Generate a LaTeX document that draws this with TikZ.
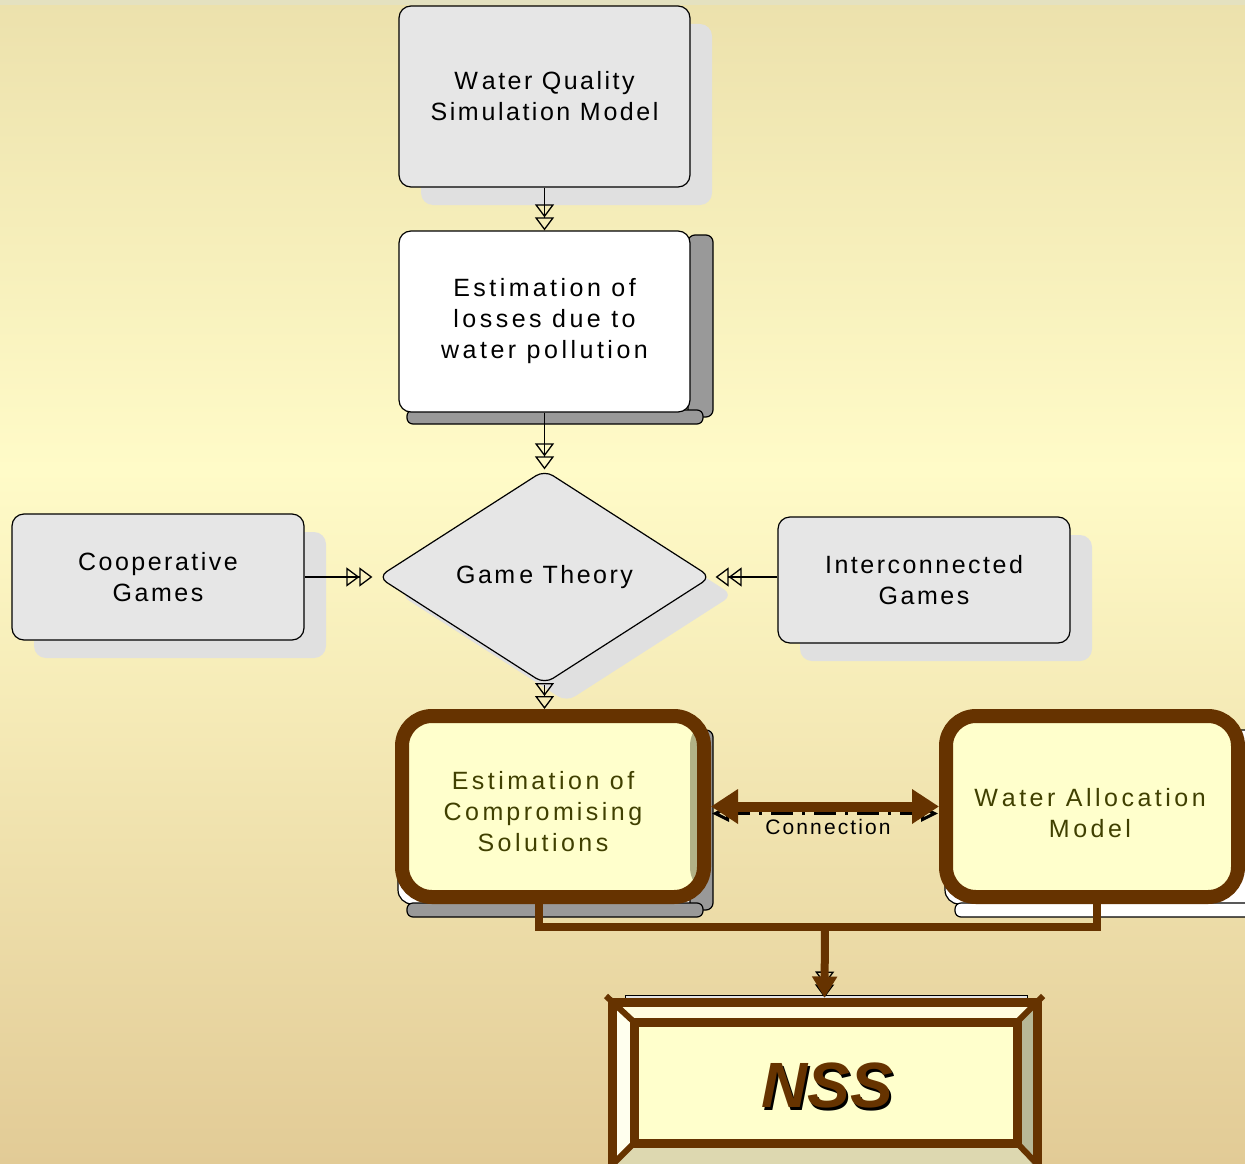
\documentclass[tikz,border=0pt]{standalone}
\usepackage{fontspec}
\setmainfont{Liberation Sans}
\newfontfamily\boxfont{Liberation Sans}[LetterSpace=10]
\newfontfamily\widefont{Liberation Sans}[LetterSpace=14]
\usetikzlibrary{shapes.geometric,arrows.meta,shadows}

\definecolor{bgtop}{RGB}{236,225,172}
\definecolor{bgmid}{RGB}{255,251,200}
\definecolor{bgbot}{RGB}{226,203,150}
\definecolor{topstrip}{RGB}{228,225,192}
\definecolor{boxgray}{RGB}{230,230,230}
\definecolor{shgray}{RGB}{224,224,224}
\definecolor{bargray}{RGB}{153,153,153}
\definecolor{brownc}{RGB}{102,51,0}
\definecolor{paleyel}{RGB}{255,255,204}
\definecolor{olivetxt}{RGB}{64,64,0}
\definecolor{olivestrip}{RGB}{178,178,134}
\definecolor{bevtop}{RGB}{255,252,222}
\definecolor{bevleft}{RGB}{255,255,238}
\definecolor{bevright}{RGB}{184,184,150}
\definecolor{bevbot}{RGB}{221,216,176}

\newcommand\kk{\kern4pt}
\newcommand\ks{\kern3pt}

\begin{document}
\begin{tikzpicture}[x=1pt,y=-1pt,
  txt/.style={font=\boxfont\fontsize{25}{31}\selectfont, align=center},
  wtxt/.style={font=\widefont\fontsize{25}{31}\selectfont, align=center},
  flatshadow/.style={drop shadow={shadow xshift=22pt, shadow yshift=-18pt, fill=shgray, opacity=1}},
  graybox/.style={txt, draw=black, line width=1.2pt, fill=boxgray, rounded corners=12pt, inner sep=0pt, flatshadow},
  whitebox/.style={wtxt, draw=black, line width=1.2pt, fill=white, rounded corners=12pt, inner sep=0pt},
  brownbox/.style={draw=brownc, line width=14pt, fill=paleyel, rounded corners=30pt, inner sep=0pt},
  yeltxt/.style={wtxt, text=olivetxt},
  bar/.style={draw=black, line width=1.2pt, rounded corners=7pt},
  dblarrow/.style={draw=black, line width=1.3pt, -{Triangle[open, length=13pt, width=19pt] Triangle[open, length=13pt, width=19pt]}},
  brownline/.style={draw=brownc, line width=8pt},
]
\useasboundingbox (0,0) rectangle (1245,1164);
% background
\shade[top color=bgtop, bottom color=bgmid] (0,0) rectangle (1245,470);
\shade[top color=bgmid, bottom color=bgbot] (0,470) rectangle (1245,1164);
\fill[topstrip] (0,0) rectangle (1245,5);

% box 1
\node[graybox, minimum width=291pt, minimum height=181pt] (wq) at (544.5,96.5) {W\kk ater Quality\\Sim\ks ulation M\ks odel};

% box 2 with 3D bars
\draw[bar, fill=bargray] (688,235) rectangle (713,417);
\draw[bar, fill=bargray, rounded corners=6pt] (407,410) rectangle (703,424);
\node[whitebox, minimum width=291pt, minimum height=181pt] (el) at (544.5,321.5) {Estim\ks ation of\\losses due to\\water pollution};

% diamond
\node[diamond, draw=black, line width=1.2pt, fill=boxgray, rounded corners=10pt, inner sep=0pt,
      minimum width=333pt, minimum height=214pt, flatshadow, txt] (gt) at (544.5,577) {Gam\kk e Theory};

% side boxes
\node[graybox, minimum width=292pt, minimum height=126pt] (coop) at (158,577) {Cooperative\\Games};
\node[graybox, minimum width=292pt, minimum height=126pt] (inter) at (924,580) {Interconnected\\Games};

% thin connectors
\draw[dblarrow] (wq.south) -- (el.north);
\draw[dblarrow] (el.south) -- (gt.north);
\draw[dblarrow, shorten >=5pt] (coop.east) -- (gt.west);
\draw[dblarrow, shorten >=4pt] (gt.east -| inter.west) -- (gt.east);

% box E backing
\draw[bar, fill=white, rounded corners=14pt] (398,730) rectangle (703,904);
\draw[bar, fill=bargray] (690,730) rectangle (713,910);
\draw[bar, fill=bargray, rounded corners=6pt] (407,903) rectangle (703,917);
% box W backing
\draw[bar, fill=white, rounded corners=14pt] (945,730) rectangle (1262,904);
\draw[bar, fill=white, rounded corners=6pt] (955,903) rectangle (1262,917);

\node[brownbox, minimum width=302pt, minimum height=181pt,
      path picture={\fill[olivestrip] ([xshift=-14pt]path picture bounding box.north east) rectangle (path picture bounding box.south east);}] (esta) at (553,806.5) {};
\node[yeltxt] (estatext) at (543,812) {Estim\ks ation of\\Com\ks prom\ks ising\\Solutions};
\node[brownbox, minimum width=292pt, minimum height=181pt] (wam) at (1092,806.5) {};
\node[yeltxt] (wamtext) at (1090,813) {W\kk ater Allocation\\Model};

\draw[dblarrow] (gt.south) -- (gt.south |- esta.north);

% connection
\draw[draw=black, line width=3pt, dash pattern=on 22pt off 9pt on 3pt off 9pt,
      {Triangle[open, length=17pt, width=16pt]}-{Triangle[open, length=17pt, width=16pt]},
      shorten <=1pt, shorten >=1pt] ([yshift=-7pt]esta.east) -- ([yshift=-7pt]wam.west);
\draw[draw=brownc, line width=10pt, {Triangle[length=27pt, width=33pt]}-{Triangle[length=27pt, width=33pt]}]
      (esta.east) -- (wam.west);
\node[font=\boxfont\fontsize{21}{25}\selectfont, text=black] (conn) at (828,827) {Connection};

% NSS frame
\fill[boxgray, draw=black, line width=1pt] (625,995) rectangle (1027,1001);
\fill[bevtop] (612,1002) -- (1037,1002) -- (1017,1022) -- (634,1022) -- cycle;
\fill[bevleft] (612,1002) -- (634,1022) -- (634,1143) -- (612,1172) -- cycle;
\fill[bevright] (1037,1002) -- (1017,1022) -- (1017,1143) -- (1037,1172) -- cycle;
\fill[bevbot] (634,1143) -- (1017,1143) -- (1037,1172) -- (612,1172) -- cycle;
\draw[draw=brownc, line width=6pt] (606,996) -- (634,1022);
\draw[draw=brownc, line width=6pt] (1043,996) -- (1017,1022);
\draw[draw=brownc, line width=6pt] (634,1143) -- (610,1167);
\draw[draw=brownc, line width=6pt] (1017,1143) -- (1040,1167);
\node[draw=brownc, line width=9pt, minimum width=425pt, minimum height=170pt, inner sep=0pt] (nssframe) at (824.5,1087) {};
\node[draw=brownc, line width=9pt, fill=paleyel, minimum width=383pt, minimum height=121pt, inner sep=0pt] (nss) at (825.5,1082.5) {};
\node[font=\fontsize{64}{70}\selectfont\bfseries\itshape, inner sep=0pt] (nsstext) at (827,1087)
  {\rlap{\hspace{2.5pt}\raisebox{-2.5pt}{\color{black}NSS}}\color{brownc}NSS};

% brown connectors to NSS
\coordinate (j) at (825,927);
\draw[brownline] ([xshift=-14pt]esta.south) -- ([xshift=-14pt]esta.south |- j) -- ([xshift=5pt]wam.south |- j) -- ([xshift=5pt]wam.south);
\draw[dblarrow] (j) -- (nssframe.north);
\draw[brownline, -{Triangle[length=21pt, width=24pt]}] (j) -- (nssframe.north);
\end{tikzpicture}
\end{document}
